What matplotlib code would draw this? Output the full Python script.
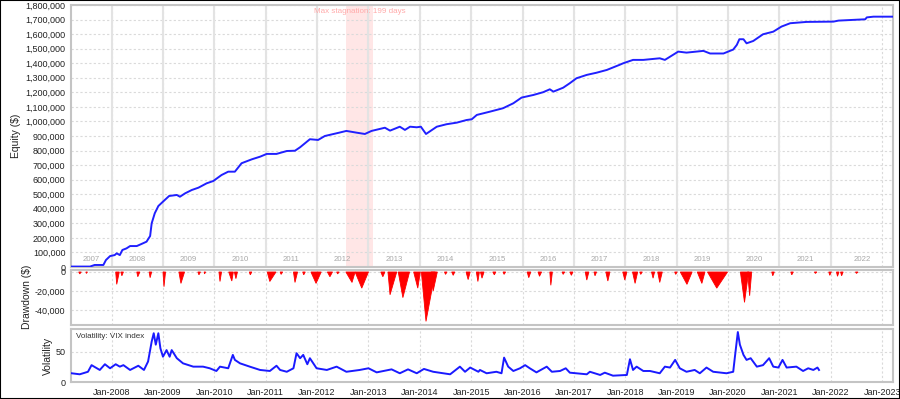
import matplotlib
matplotlib.use("Agg")
import matplotlib.pyplot as plt
from matplotlib.patches import Rectangle
from matplotlib.ticker import FuncFormatter

plt.rcParams["font.family"] = ["Liberation Sans", "DejaVu Sans"]

# --------------------------------------------------------------------------
# ---- Data (decimal years). -----------------------------------------------
# --------------------------------------------------------------------------

# Equity curve.
eq_t = [2007.22, 2007.58, 2007.67, 2007.84, 2007.89, 2007.97, 2008.06,
        2008.10, 2008.16, 2008.21, 2008.29, 2008.36, 2008.49, 2008.58,
        2008.68, 2008.75, 2008.78, 2008.84, 2008.91, 2009.00, 2009.12,
        2009.27, 2009.33, 2009.43, 2009.56, 2009.69, 2009.85, 2009.98,
        2010.14, 2010.27, 2010.40, 2010.53, 2010.73, 2010.89, 2011.02,
        2011.21, 2011.41, 2011.57, 2011.67, 2011.86, 2012.02, 2012.15,
        2012.43, 2012.57, 2012.77, 2012.93, 2013.06, 2013.19, 2013.32,
        2013.42, 2013.61, 2013.71, 2013.81, 2013.94, 2014.02, 2014.12,
        2014.33, 2014.52, 2014.72, 2014.91, 2015.01, 2015.11, 2015.36,
        2015.62, 2015.82, 2015.98, 2016.21, 2016.40, 2016.53, 2016.60,
        2016.79, 2016.92, 2017.05, 2017.25, 2017.44, 2017.64, 2017.88,
        2017.96, 2018.15, 2018.35, 2018.67, 2018.77, 2019.03, 2019.19,
        2019.52, 2019.65, 2019.91, 2020.10, 2020.17, 2020.22, 2020.30,
        2020.36, 2020.49, 2020.68, 2020.88, 2021.04, 2021.21, 2021.53,
        2022.05, 2022.15, 2022.67, 2022.70, 2022.83, 2023.21]
eq_v = [3000, 3000, 14000, 14000, 48000, 75000, 82000,
        94000, 82000, 117000, 128000, 144000, 144000, 158000,
        174000, 213000, 300000, 369000, 419000, 449000, 488000,
        495000, 483000, 506000, 529000, 545000, 575000, 591000,
        632000, 655000, 655000, 713000, 740000, 758000, 777000,
        777000, 797000, 799000, 823000, 878000, 873000, 900000,
        923000, 935000, 923000, 914000, 935000, 946000, 957000,
        937000, 964000, 942000, 964000, 960000, 964000, 914000,
        964000, 981000, 992000, 1010000, 1015000, 1045000, 1067000,
        1091000, 1125000, 1164000, 1182000, 1201000, 1221000, 1205000,
        1232000, 1263000, 1297000, 1320000, 1335000, 1354000, 1388000,
        1400000, 1423000, 1423000, 1434000, 1423000, 1480000, 1473000,
        1485000, 1467000, 1467000, 1494000, 1526000, 1565000, 1565000,
        1537000, 1553000, 1599000, 1617000, 1652000, 1675000, 1684000,
        1686000, 1693000, 1702000, 1715000, 1720000, 1720000]

# Drawdown events: start, bottom, depth ($), end.
dd_start = [2007.36, 2007.50, 2008.08, 2008.18, 2008.49, 2008.73, 2009.00,
            2009.31, 2009.68, 2009.80, 2010.09, 2010.28, 2010.39, 2010.68,
            2011.03, 2011.28, 2011.54, 2011.72, 2011.88, 2012.20, 2012.38,
            2012.56, 2012.74, 2013.24, 2013.38, 2013.58, 2013.88, 2014.03,
            2014.22, 2014.48, 2014.62, 2014.90, 2015.10, 2015.18, 2015.42,
            2015.62, 2016.09, 2016.30, 2016.53, 2016.77, 2016.92, 2017.22,
            2017.39, 2017.62, 2017.95, 2018.14, 2018.28, 2018.51, 2018.63,
            2018.96, 2019.07, 2019.40, 2019.60, 2020.24, 2020.38, 2020.85,
            2021.22, 2021.68, 2021.96, 2022.11, 2022.19, 2022.48]
dd_bottom = [2007.38, 2007.51, 2008.10, 2008.20, 2008.51, 2008.75, 2009.02,
             2009.35, 2009.70, 2009.81, 2010.11, 2010.34, 2010.42, 2010.70,
             2011.08, 2011.30, 2011.57, 2011.74, 2011.98, 2012.25, 2012.40,
             2012.68, 2012.87, 2013.28, 2013.42, 2013.67, 2013.96, 2014.12,
             2014.26, 2014.50, 2014.65, 2014.94, 2015.13, 2015.21, 2015.45,
             2015.64, 2016.12, 2016.33, 2016.55, 2016.79, 2016.95, 2017.25,
             2017.41, 2017.66, 2017.99, 2018.19, 2018.30, 2018.54, 2018.67,
             2018.98, 2019.20, 2019.49, 2019.78, 2020.32, 2020.42, 2020.87,
             2021.24, 2021.70, 2021.98, 2022.13, 2022.21, 2022.50]
dd_depth = [2000, 1500, 13000, 4000, 5000, 6000, 15500,
            12000, 3000, 2000, 10000, 9500, 7000, 3000,
            10000, 2500, 11000, 3000, 12000, 5000, 2000,
            11000, 17000, 5000, 24000, 27000, 17000, 52000,
            20000, 2500, 3500, 8000, 10000, 6500, 3000,
            2500, 6000, 4500, 14000, 2500, 3500, 8500,
            4000, 9500, 8500, 12000, 2500, 6500, 11000,
            2500, 13000, 12000, 17000, 32000, 25000, 4000,
            3000, 1500, 3500, 4500, 4000, 1500]
dd_end = [2007.41, 2007.53, 2008.15, 2008.23, 2008.55, 2008.78, 2009.05,
          2009.42, 2009.73, 2009.83, 2010.14, 2010.37, 2010.45, 2010.73,
          2011.20, 2011.33, 2011.62, 2011.77, 2012.08, 2012.30, 2012.43,
          2012.74, 2013.00, 2013.32, 2013.55, 2013.80, 2014.01, 2014.30,
          2014.34, 2014.53, 2014.68, 2014.98, 2015.16, 2015.25, 2015.48,
          2015.67, 2016.16, 2016.37, 2016.58, 2016.82, 2016.98, 2017.29,
          2017.44, 2017.70, 2018.03, 2018.24, 2018.33, 2018.57, 2018.72,
          2019.01, 2019.30, 2019.55, 2019.99, 2020.40, 2020.46, 2020.90,
          2021.27, 2021.73, 2022.01, 2022.16, 2022.24, 2022.53]

# VIX index.
vix_t = [2007.22, 2007.38, 2007.54, 2007.61, 2007.67, 2007.77, 2007.87,
         2007.97, 2008.08, 2008.16, 2008.23, 2008.36, 2008.52, 2008.63,
         2008.71, 2008.78, 2008.82, 2008.86, 2008.91, 2008.95, 2009.00,
         2009.07, 2009.13, 2009.17, 2009.27, 2009.39, 2009.59, 2009.78,
         2009.91, 2010.04, 2010.11, 2010.27, 2010.36, 2010.40, 2010.50,
         2010.69, 2010.89, 2011.08, 2011.21, 2011.28, 2011.41, 2011.54,
         2011.60, 2011.67, 2011.73, 2011.81, 2011.86, 2011.99, 2012.19,
         2012.38, 2012.57, 2012.83, 2013.00, 2013.16, 2013.45, 2013.61,
         2013.77, 2013.94, 2014.08, 2014.26, 2014.59, 2014.78, 2014.88,
         2014.98, 2015.14, 2015.17, 2015.30, 2015.49, 2015.59, 2015.64,
         2015.72, 2015.82, 2015.95, 2016.05, 2016.14, 2016.27, 2016.47,
         2016.57, 2016.73, 2016.84, 2016.92, 2017.25, 2017.31, 2017.51,
         2017.60, 2017.76, 2018.03, 2018.09, 2018.15, 2018.22, 2018.35,
         2018.48, 2018.67, 2018.77, 2018.87, 2018.97, 2019.06, 2019.19,
         2019.35, 2019.45, 2019.58, 2019.71, 2019.97, 2020.10, 2020.13,
         2020.19, 2020.23, 2020.30, 2020.36, 2020.44, 2020.56, 2020.68,
         2020.80, 2020.88, 2020.98, 2021.06, 2021.14, 2021.33, 2021.46,
         2021.56, 2021.66, 2021.74, 2021.77]
vix_v = [14.5, 12.8, 17, 28, 25, 20, 29.5,
         22.8, 29.5, 25.5, 28, 20, 27, 20,
         34, 67, 81, 62, 81, 56, 42,
         53, 42, 53, 39.5, 31, 25.5, 25.5,
         22.8, 18.3, 25.5, 22.8, 45, 36.7, 31,
         25.5, 20, 18.3, 27, 20, 17, 22.8,
         47.8, 39.5, 45, 29.5, 39.5, 22.8, 20,
         25.5, 17, 20, 22.8, 16, 21, 14.5,
         21, 14.5, 21.7, 17, 12.8, 25.5, 17,
         24, 17, 20, 14.5, 17, 14.5, 40.5,
         25.5, 18.3, 22.8, 28, 22.8, 16, 25.5,
         17, 18.3, 22.8, 15.5, 12.8, 17, 11.7,
         15.5, 10.5, 11.7, 37.8, 20, 25.5, 18.3,
         18.3, 14.5, 25.5, 24, 36.7, 22.8, 17,
         20, 14.5, 24, 17, 14.5, 17, 39.5,
         83, 62, 45, 36.7, 39.5, 25.5, 28,
         39.5, 25.5, 24, 36.7, 24, 25.5, 18.3,
         22.8, 20, 24, 20]

# Max stagnation period.
stag_start = 2012.56
stag_end = 2013.09
stag_label = "Max stagnation: 199 days"

# Axis ticks.
years = list(range(2007, 2023))
tick_years = list(range(2008, 2024))
tick_labels = ["Jan-%d" % y for y in tick_years]
eq_ticks = list(range(0, 1800001, 100000))
dd_ticks = [0, -20000, -40000]
vix_ticks = [0, 50]

x_limits = [2007.21, 2023.21]

# --------------------------------------------------------------------------
# ---- Plotting. -----------------------------------------------------------
# --------------------------------------------------------------------------

grid_col = "#dadada"
spine_col = "#c4c4c4"
text_col = "#222222"
tick_size = 6.5

fig = plt.figure(figsize=(9.0, 3.99), dpi=100)
ax1 = fig.add_axes([0.0789, 0.3308, 0.9133, 0.6566])
ax2 = fig.add_axes([0.0789, 0.1855, 0.9133, 0.1390])
ax3 = fig.add_axes([0.0789, 0.0426, 0.9133, 0.1328])

comma = FuncFormatter(lambda v, p: "{0:,.0f}".format(v))

for ax in (ax1, ax2, ax3):
    ax.set_xlim(x_limits)
    ax.set_xticks(tick_years)
    ax.grid(True, color=grid_col, linestyle=(0, (2, 2)), linewidth=0.8)
    ax.set_axisbelow(True)
    for s in ax.spines.values():
        s.set_color(spine_col)
        s.set_linewidth(1.5)
    ax.tick_params(length=0, pad=4, labelsize=tick_size, colors=text_col)
    ax.yaxis.set_major_formatter(comma)

# Equity plot.
ax1.axvspan(stag_start, stag_end, color="#ffe6e6", zorder=0.5, lw=0)
for y in tick_years[:-1]:
    ax1.axvline(y, color="#e3e3e3", linewidth=1.5, zorder=0.8)
ax1.plot(eq_t, eq_v, color="#2020ff", linewidth=1.4, zorder=3)
ax1.set_ylim(0, 1800000)
ax1.set_yticks(eq_ticks)
ax1.set_xticklabels([])
ax1.set_ylabel("Equity ($)", fontsize=7.5, color=text_col)
ax1.yaxis.set_label_coords(-0.061, 0.5)

bounds = [x_limits[0]] + tick_years[:-1] + [x_limits[1]]
for i, y in enumerate(years):
    ax1.text((bounds[i] + bounds[i + 1]) / 2, 0.027, str(y),
        transform=ax1.get_xaxis_transform(), ha="center", va="center",
        fontsize=5.6, color="#a8a8a8")
ax1.text((stag_start + stag_end) / 2, 0.974, stag_label,
    transform=ax1.get_xaxis_transform(), ha="center", va="center",
    fontsize=5.8, color="#ffaaaa")

# Drawdown plot.
for s, b, d, e in zip(dd_start, dd_bottom, dd_depth, dd_end):
    ax2.fill([s, b, e], [0, -d, 0], color="#ff0000", linewidth=0.6,
        edgecolor="#ff0000", zorder=3)
ax2.set_ylim(-55800, 2600)
ax2.set_yticks(dd_ticks)
ax2.set_xticklabels([])
ax2.set_ylabel("Drawdown ($)", fontsize=7.5, color=text_col)
ax2.yaxis.set_label_coords(-0.0474, 0.5)

# Volatility plot.
ax3.plot(vix_t, vix_v, color="#1a1aff", linewidth=1.4, zorder=3)
ax3.set_ylim(0, 88)
ax3.set_yticks(vix_ticks)
ax3.set_xticklabels(tick_labels)
ax3.set_ylabel("Volatility", fontsize=7.5, color=text_col)
ax3.yaxis.set_label_coords(-0.022, 0.5)
ax3.text(0.006, 0.85, "Volatility: VIX index", transform=ax3.transAxes,
    ha="left", va="center", fontsize=5.8, color="#333333")

# Outer frame.
fig.patches.append(Rectangle((0, 0), 1, 1, transform=fig.transFigure,
    fill=False, edgecolor="black", linewidth=1.5))

fig.savefig("out.png", dpi=100)
